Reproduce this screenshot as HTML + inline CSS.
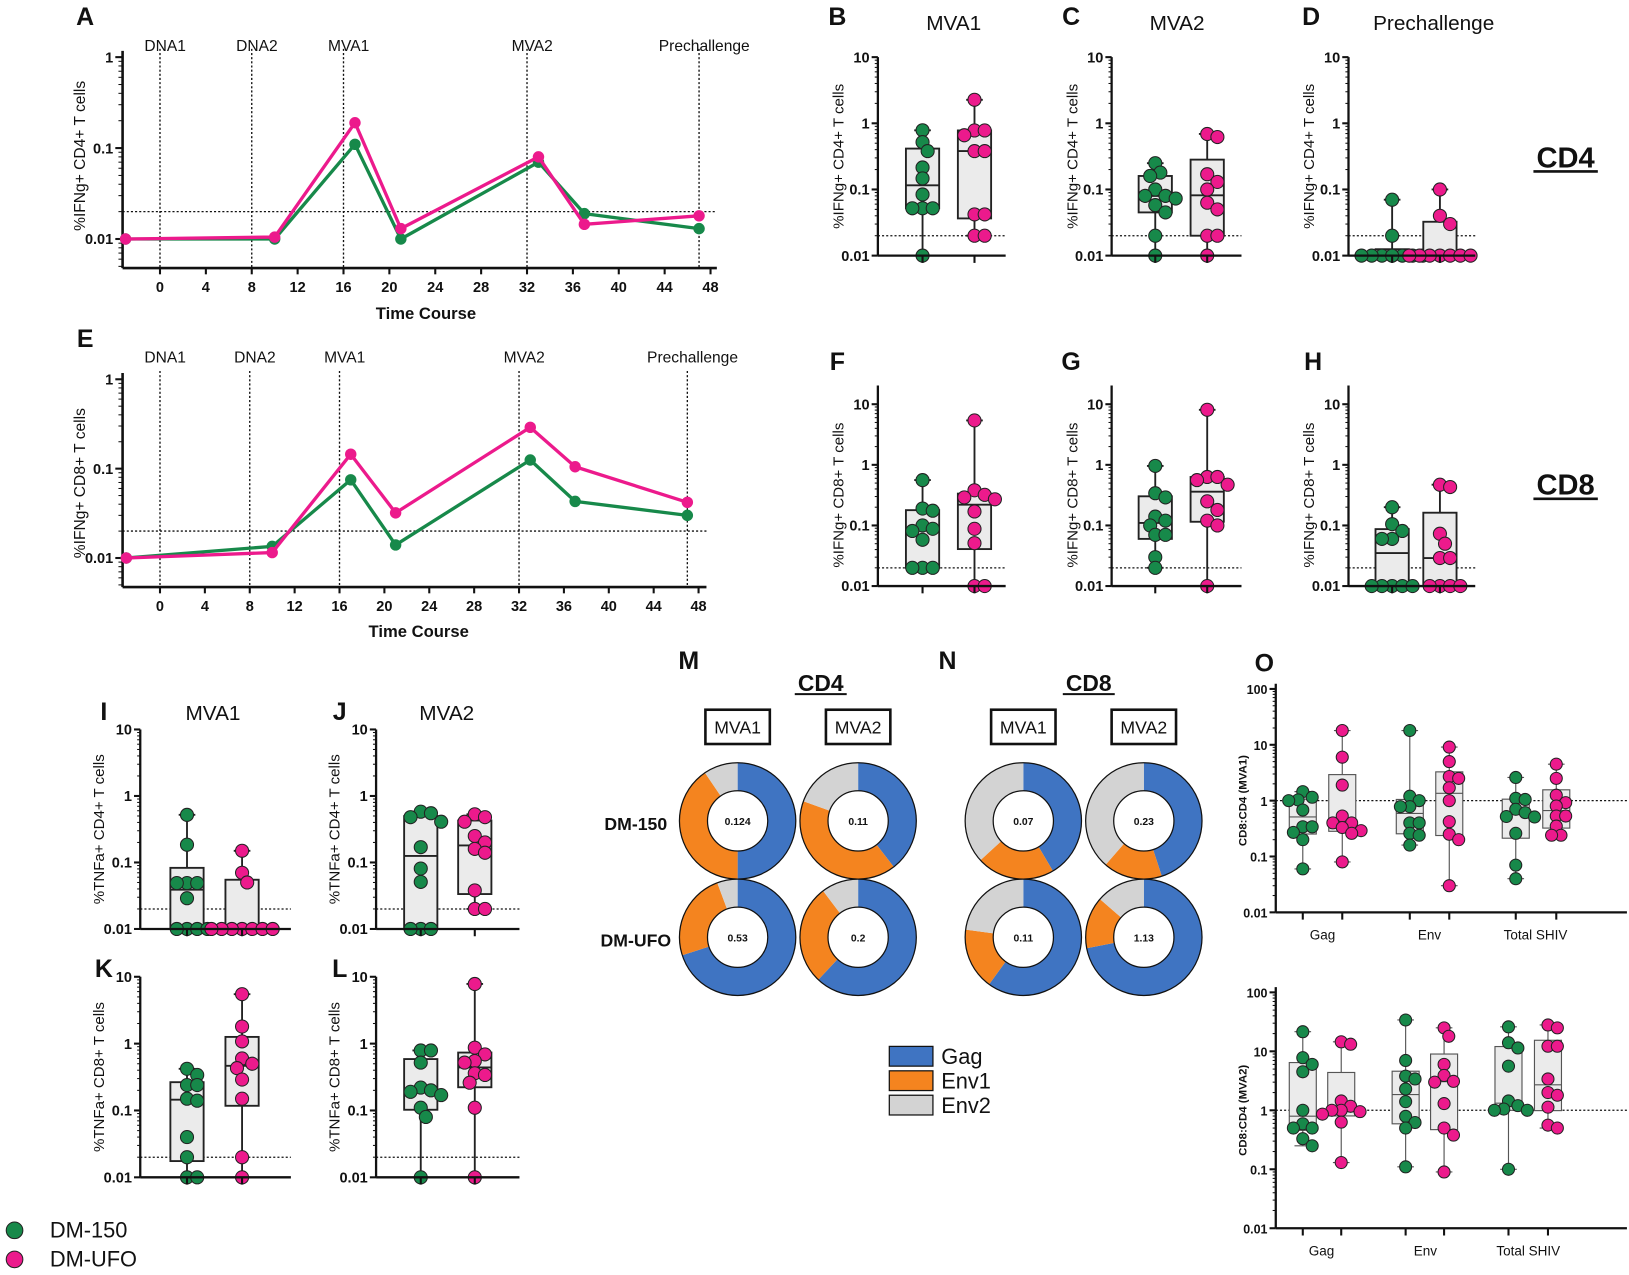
<!DOCTYPE html>
<html><head><meta charset="utf-8"><style>
html,body{margin:0;padding:0;background:#fff}
svg{display:block;font-family:"Liberation Sans",Arial,sans-serif}
</style></head><body>
<svg id="fig" xmlns="http://www.w3.org/2000/svg" width="1629" height="1275" viewBox="0 0 1568 1227" preserveAspectRatio="none"></svg>
<script>
// ---------- DATA ----------
const aTimes=[-3,10,17,21,33,37,47];
const aGreen=[0.01,0.01,0.11,0.01,0.07,0.019,0.013];
const aPink=[0.01,0.0105,0.19,0.013,0.08,0.0145,0.018];
const eTimes=[-3,10,17,21,33,37,47];
const eGreen=[0.01,0.0135,0.075,0.014,0.125,0.043,0.03];
const ePink=[0.01,0.0115,0.145,0.032,0.29,0.105,0.042];
const timeTicks=[0,4,8,12,16,20,24,28,32,36,40,44,48];
const vaccLabels=['DNA1','DNA2','MVA1','MVA2','Prechallenge'];
const vaccTimes=[0,8,16,32,47];
const lineYTicks=[1,0.1,0.01];
const lineYTickLabels=['1','0.1','0.01'];
const boxYTicks=[10,1,0.1,0.01];
const boxYTickLabels=['10','1','0.1','0.01'];
const oYTicks=[100,10,1,0.1,0.01];
const oYTickLabels=['100','10','1','0.1','0.01'];
const oCategories=['Gag','Env','Total SHIV'];

const bGreen=[0.785,0.52,0.38,0.215,0.147,0.084,0.052,0.052,0.052,0.01];
const bPink=[2.27,0.78,0.78,0.66,0.38,0.38,0.042,0.042,0.02,0.02];
const cGreen=[0.25,0.18,0.16,0.1,0.08,0.08,0.073,0.058,0.045,0.02,0.01];
const cPink=[0.69,0.62,0.17,0.13,0.1,0.063,0.05,0.02,0.02,0.01];
const dGreen=[0.07,0.02,0.01,0.01,0.01,0.01,0.01,0.01,0.01,0.01];
const dPink=[0.1,0.04,0.03,0.01,0.01,0.01,0.01,0.01,0.01,0.01];
const fGreen=[0.56,0.19,0.175,0.1,0.088,0.081,0.058,0.02,0.02,0.02];
const fPink=[5.4,0.38,0.32,0.29,0.27,0.17,0.088,0.051,0.01,0.01];
const gGreen=[0.96,0.34,0.29,0.14,0.12,0.1,0.07,0.07,0.03,0.02];
const gPink=[8.1,0.63,0.63,0.56,0.47,0.25,0.18,0.12,0.1,0.01];
const hGreen=[0.2,0.105,0.081,0.06,0.06,0.01,0.01,0.01,0.01,0.01];
const hPink=[0.47,0.43,0.073,0.05,0.029,0.029,0.01,0.01,0.01,0.01];
const iGreen=[0.52,0.185,0.049,0.049,0.049,0.029,0.01,0.01,0.01,0.01];
const iPink=[0.15,0.07,0.05,0.01,0.01,0.01,0.01,0.01,0.01,0.01];
const jGreen=[0.58,0.55,0.48,0.41,0.17,0.081,0.051,0.01,0.01,0.01];
const jPink=[0.53,0.48,0.41,0.25,0.2,0.16,0.14,0.038,0.02,0.02];
const kGreen=[0.42,0.34,0.24,0.24,0.15,0.14,0.04,0.02,0.01,0.01];
const kPink=[5.5,1.8,1.08,0.6,0.5,0.43,0.29,0.15,0.02,0.01];
const lGreen=[0.79,0.79,0.52,0.22,0.2,0.19,0.17,0.11,0.08,0.01];
const lPink=[7.8,0.87,0.69,0.55,0.52,0.36,0.34,0.26,0.11,0.01];

const o1GagGreen=[1.45,1.15,1.03,1.0,0.68,0.34,0.34,0.27,0.2,0.06];
const o1GagPink=[18,6,1.9,0.53,0.4,0.4,0.33,0.29,0.26,0.08];
const o1EnvGreen=[18,1.2,1.0,0.78,0.78,0.4,0.4,0.26,0.24,0.16];
const o1EnvPink=[9.1,5,2.7,2.5,1.7,1.0,0.42,0.25,0.2,0.03];
const o1TotGreen=[2.6,1.1,1.05,0.7,0.61,0.52,0.51,0.26,0.07,0.04];
const o1TotPink=[4.5,2.5,1.25,0.92,0.8,0.53,0.53,0.35,0.24,0.24];
const o2GagGreen=[21.5,7.8,6,4.5,1.0,0.59,0.5,0.5,0.33,0.25];
const o2GagPink=[14.5,13.2,1.44,1.17,1.0,1.0,0.95,0.86,0.63,0.13];
const o2EnvGreen=[34,7,3.8,3.4,2.3,1.4,0.79,0.62,0.5,0.11];
const o2EnvPink=[25,18,6,3.9,3.1,3.0,1.3,0.5,0.38,0.09];
const o2TotGreen=[26,14,11.4,5.6,1.44,1.2,1.05,1.0,1.0,0.1];
const o2TotPink=[28,25,12.2,12.2,3.4,2.0,1.8,1.13,0.56,0.5];

const donutGag=[0.5,0.395,0.415,0.45,0.70,0.62,0.60,0.72];
const donutEnv1=[0.405,0.41,0.217,0.164,0.243,0.277,0.171,0.144];
const donutEnv2=[0.095,0.195,0.368,0.386,0.057,0.103,0.229,0.136];
const donutTotals=['0.124','0.11','0.07','0.23','0.53','0.2','0.11','1.13'];
const donutLegend=['Gag','Env1','Env2'];

// ---------- HELPERS ----------
const NS='http://www.w3.org/2000/svg';
const svg=document.getElementById('fig');
const GREEN='#17894a', PINK='#ec1a8c';
const DCOL=['#3f74c2','#f4841f','#d3d3d3'];
function el(tag,attrs,name,parent){
  const e=document.createElementNS(NS,tag);
  for(const k in attrs) e.setAttribute(k,attrs[k]);
  
  
  (parent||svg).appendChild(e);
  return e;
}
function txt(s,x,y,opt,name,parent){
  const a=Object.assign({x:x,y:y,'font-size':14,'text-anchor':'middle',fill:'#111'},opt||{});
  const t=el('text',a,name,parent); t.textContent=s; return t;
}
function logScale(vTop,vBot,yTop,yBot){
  const lt=Math.log10(vTop), lb=Math.log10(vBot);
  return v=>yTop+(lt-Math.log10(v))/(lt-lb)*(yBot-yTop);
}
function quant(sorted,p){
  const n=sorted.length, pos=p*(n+1);
  if(pos<=1) return sorted[0]; if(pos>=n) return sorted[n-1];
  const i=Math.floor(pos), f=pos-i;
  return sorted[i-1]+f*(sorted[i]-sorted[i-1]);
}
function minorTicks(g,ax,yf,vTop,vBot,len){
  for(let d=Math.floor(Math.log10(vBot));d<Math.log10(vTop);d++){
    for(let m=2;m<=9;m++){const v=m*Math.pow(10,d); if(v>vTop||v<vBot)continue;
      const y=yf(v); el('line',{x1:ax-len,x2:ax,y1:y,y2:y,stroke:'#111','stroke-width':1},'minor-tick',g);}
  }
}

// ---------- LINE CHARTS ----------
function lineChart(id,cfg,times,green,pink){
  const g=el('g',{},id);
  const yf=logScale(1,0.01,cfg.y1,cfg.y001);
  const xf=t=>cfg.x0+t*cfg.xs;
  const ax=118, bottom=cfg.bottom, right=cfg.right;
  vaccTimes.forEach((t,i)=>{
    el('line',{x1:xf(t),x2:xf(t),y1:cfg.y1-8,y2:bottom,stroke:'#111','stroke-width':1.3,'stroke-dasharray':'2,2'},'vaccination-line',g);
    txt(vaccLabels[i],xf(t)+5,cfg.labY,{'font-size':15},'vaccination-label',g);
  });
  el('line',{x1:ax,x2:right,y1:yf(0.02),y2:yf(0.02),stroke:'#111','stroke-width':1.3,'stroke-dasharray':'2,2'},'threshold-line',g);
  el('line',{x1:ax,x2:ax,y1:cfg.y1-6,y2:bottom,stroke:'#111','stroke-width':2.5},'y-axis',g);
  el('line',{x1:ax,x2:right,y1:bottom,y2:bottom,stroke:'#111','stroke-width':2.5},'x-axis',g);
  minorTicks(g,ax,yf,1,0.005,4);
  lineYTicks.forEach((v,i)=>{
    el('line',{x1:ax-7,x2:ax,y1:yf(v),y2:yf(v),stroke:'#111','stroke-width':2},'y-tick',g);
    txt(lineYTickLabels[i],ax-9,yf(v)+5,{'text-anchor':'end','font-weight':'bold','font-size':14},'y-tick-label',g);
  });
  timeTicks.forEach(t=>{
    el('line',{x1:xf(t),x2:xf(t),y1:bottom,y2:bottom+6,stroke:'#111','stroke-width':2},'x-tick',g);
    txt(String(t),xf(t),bottom+23,{'font-weight':'bold','font-size':14},'x-tick-label',g);
  });
  txt('Time Course',cfg.xtX,cfg.xtY,{'font-weight':'bold','font-size':16},'x-axis-title',g);
  txt(cfg.ylabel,0,0,{'font-size':15,transform:`translate(82,${cfg.ylY}) rotate(-90)`},'y-axis-title',g);
  [[green,GREEN,'dm150'],[pink,PINK,'dmufo']].forEach(([vals,c,n])=>{
    const pts=vals.map((v,i)=>xf(times[i])+','+yf(v)).join(' ');
    el('polyline',{points:pts,fill:'none',stroke:c,'stroke-width':3.2,'stroke-linejoin':'round'},'series-line-'+n,g);
    vals.forEach((v,i)=>el('circle',{cx:xf(times[i]),cy:yf(v),r:5.5,fill:c},'series-point-'+n,g));
  });
  txt(cfg.letter,82,cfg.letterY,{'font-weight':'bold','font-size':24},'panel-letter',g);
}
lineChart('panel-a',{y1:55,y001:230,bottom:258,right:690,x0:154,xs:11.04,labY:49,xtX:410,xtY:307,ylabel:'%IFNg+ CD4+ T cells',ylY:150,letter:'A',letterY:24},aTimes,aGreen,aPink);
lineChart('panel-e',{y1:365,y001:537,bottom:565,right:680,x0:154,xs:10.8,labY:349,xtX:403,xtY:613,ylabel:'%IFNg+ CD8+ T cells',ylY:465,letter:'E',letterY:334},eTimes,eGreen,ePink);

// ---------- BOX PANELS ----------
function swarm(vals,cx,yf,r){
  const pts=vals.map(v=>({v:v,y:yf(v)})).sort((a,b)=>a.y-b.y);
  const placed=[];
  const steps=[0,1,-1,2,-2,3,-3,4,-4,5,-5,6,-6];
  const st=0.78*r, minD=1.56*r;
  pts.forEach(p=>{
    for(const k of steps){const x=cx+k*st;
      if(placed.every(q=>Math.hypot(q.x-x,q.y-p.y)>=minD*0.99)){p.x=x;break;}}
    if(p.x===undefined)p.x=cx; placed.push(p);
  });
  return placed;
}
function boxPanel(id,cfg,groups){
  const g=el('g',{},id);
  const yf=logScale(cfg.vTop,cfg.vBot,cfg.yTop,cfg.yBot);
  const ax=cfg.ax, bottom=cfg.yBot;
  el('line',{x1:ax,x2:cfg.right,y1:yf(cfg.ref),y2:yf(cfg.ref),stroke:'#111','stroke-width':1.2,'stroke-dasharray':'2,2'},'threshold-line',g);
  groups.forEach(gr=>{
    const s=gr.vals.slice().sort((a,b)=>a-b);
    const mn=s[0],mx=s[s.length-1],q1=quant(s,0.25),md=quant(s,0.5),q3=quant(s,0.75);
    const bw=cfg.bw, sw=cfg.sw, sc=cfg.sc;
    el('line',{x1:gr.x,x2:gr.x,y1:yf(mx),y2:yf(mn),stroke:sc,'stroke-width':sw},'whisker',g);
    el('line',{x1:gr.x-8,x2:gr.x+8,y1:yf(mx),y2:yf(mx),stroke:sc,'stroke-width':sw},'whisker-cap-max',g);
    el('line',{x1:gr.x-8,x2:gr.x+8,y1:yf(mn),y2:yf(mn),stroke:sc,'stroke-width':sw},'whisker-cap-min',g);
    el('rect',{x:gr.x-bw/2,y:yf(q3),width:bw,height:Math.max(0.5,yf(q1)-yf(q3)),fill:'#ebebeb',stroke:sc,'stroke-width':sw},'box',g);
    el('line',{x1:gr.x-bw/2,x2:gr.x+bw/2,y1:yf(md),y2:yf(md),stroke:sc,'stroke-width':sw},'median-line',g);
    swarm(gr.vals,gr.x,yf,cfg.r).forEach(p=>el('circle',{cx:p.x,cy:p.y,r:cfg.r,fill:gr.color,stroke:'#222','stroke-width':1},'data-point',g));
    el('line',{x1:gr.x,x2:gr.x,y1:bottom,y2:bottom+7,stroke:'#111','stroke-width':2},'x-tick',g);
  });
  el('line',{x1:ax,x2:ax,y1:cfg.axTop,y2:bottom,stroke:'#111','stroke-width':2.2},'y-axis',g);
  el('line',{x1:ax,x2:cfg.right,y1:bottom,y2:bottom,stroke:'#111','stroke-width':2.2},'x-axis',g);
  minorTicks(g,ax,yf,cfg.vTop,cfg.vBot,3);
  cfg.ticks.forEach((v,i)=>{
    el('line',{x1:ax-6,x2:ax,y1:yf(v),y2:yf(v),stroke:'#111','stroke-width':2},'y-tick',g);
    txt(cfg.tickLabels[i],ax-8,yf(v)+5,{'text-anchor':'end','font-weight':'bold','font-size':cfg.tfs||14},'y-tick-label',g);
  });
  txt(cfg.ylabel,0,0,{'font-size':cfg.yfs||14.5,'font-weight':cfg.ybold?'bold':'normal',transform:`translate(${cfg.ylX},${(cfg.yTop+bottom)/2}) rotate(-90)`},'y-axis-title',g);
  if(cfg.title) txt(cfg.title,cfg.titleX,cfg.titleY,{'font-size':20},'panel-title',g);
  if(cfg.letter) txt(cfg.letter,cfg.letterX,cfg.letterY,{'font-weight':'bold','font-size':24},'panel-letter',g);
  if(cfg.cats) cfg.cats.forEach((c,i)=>txt(c,cfg.catX[i],bottom+26,{'font-size':13},'category-label',g));
}
const base={vTop:10,vBot:0.01,ref:0.02,bw:32,sw:1.8,sc:'#222',r:6.3,ticks:boxYTicks,tickLabels:boxYTickLabels};
const row1={yTop:55,yBot:246,axTop:55};
const row2={yTop:389,yBot:564,axTop:371};
boxPanel('panel-b',Object.assign({},base,row1,{ax:845,right:968,ylabel:'%IFNg+ CD4+ T cells',ylX:812,title:'MVA1',titleX:918,titleY:29,letter:'B',letterX:806,letterY:24}),[{vals:bGreen,x:888,color:GREEN},{vals:bPink,x:938,color:PINK}]);
boxPanel('panel-c',Object.assign({},base,row1,{ax:1070,right:1195,ylabel:'%IFNg+ CD4+ T cells',ylX:1037,title:'MVA2',titleX:1133,titleY:29,letter:'C',letterX:1031,letterY:24}),[{vals:cGreen,x:1112,color:GREEN},{vals:cPink,x:1162,color:PINK}]);
boxPanel('panel-d',Object.assign({},base,row1,{ax:1298,right:1420,ylabel:'%IFNg+ CD4+ T cells',ylX:1265,title:'Prechallenge',titleX:1380,titleY:29,letter:'D',letterX:1262,letterY:24}),[{vals:dGreen,x:1340,color:GREEN},{vals:dPink,x:1386,color:PINK}]);
boxPanel('panel-f',Object.assign({},base,row2,{ax:845,right:968,ylabel:'%IFNg+ CD8+ T cells',ylX:812,letter:'F',letterX:806,letterY:356}),[{vals:fGreen,x:888,color:GREEN},{vals:fPink,x:938,color:PINK}]);
boxPanel('panel-g',Object.assign({},base,row2,{ax:1070,right:1195,ylabel:'%IFNg+ CD8+ T cells',ylX:1037,letter:'G',letterX:1031,letterY:356}),[{vals:gGreen,x:1112,color:GREEN},{vals:gPink,x:1162,color:PINK}]);
boxPanel('panel-h',Object.assign({},base,row2,{ax:1298,right:1420,ylabel:'%IFNg+ CD8+ T cells',ylX:1265,letter:'H',letterX:1264,letterY:356}),[{vals:hGreen,x:1340,color:GREEN},{vals:hPink,x:1386,color:PINK}]);
const row3={yTop:702,yBot:894,axTop:702};
const row4={yTop:940,yBot:1133,axTop:940};
boxPanel('panel-i',Object.assign({},base,row3,{ax:135,right:280,ylabel:'%TNFa+ CD4+ T cells',ylX:100,title:'MVA1',titleX:205,titleY:693,letter:'I',letterX:100,letterY:693}),[{vals:iGreen,x:180,color:GREEN},{vals:iPink,x:233,color:PINK}]);
boxPanel('panel-j',Object.assign({},base,row3,{ax:362,right:500,ylabel:'%TNFa+ CD4+ T cells',ylX:327,title:'MVA2',titleX:430,titleY:693,letter:'J',letterX:327,letterY:693}),[{vals:jGreen,x:405,color:GREEN},{vals:jPink,x:457,color:PINK}]);
boxPanel('panel-k',Object.assign({},base,row4,{ax:135,right:280,ylabel:'%TNFa+ CD8+ T cells',ylX:100,letter:'K',letterX:100,letterY:940}),[{vals:kGreen,x:180,color:GREEN},{vals:kPink,x:233,color:PINK}]);
boxPanel('panel-l',Object.assign({},base,row4,{ax:362,right:500,ylabel:'%TNFa+ CD8+ T cells',ylX:327,letter:'L',letterX:327,letterY:940}),[{vals:lGreen,x:405,color:GREEN},{vals:lPink,x:457,color:PINK}]);
const obase={vTop:100,vBot:0.01,ref:1,bw:26,sw:1.1,sc:'#555',r:5.8,ticks:oYTicks,tickLabels:oYTickLabels,tfs:12,yfs:11,ybold:true,cats:oCategories};
boxPanel('panel-o-mva1',Object.assign({},obase,{yTop:663,yBot:878,axTop:658,ax:1228,right:1566,ylabel:'CD8:CD4 (MVA1)',ylX:1200,letter:'O',letterX:1217,letterY:646,catX:[1273,1376,1478]}),
 [{vals:o1GagGreen,x:1254,color:GREEN},{vals:o1GagPink,x:1292,color:PINK},{vals:o1EnvGreen,x:1357,color:GREEN},{vals:o1EnvPink,x:1395,color:PINK},{vals:o1TotGreen,x:1459,color:GREEN},{vals:o1TotPink,x:1498,color:PINK}]);
boxPanel('panel-o-mva2',Object.assign({},obase,{yTop:955,yBot:1182,axTop:950,ax:1228,right:1566,ylabel:'CD8:CD4 (MVA2)',ylX:1200,catX:[1272,1372,1471]}),
 [{vals:o2GagGreen,x:1254,color:GREEN},{vals:o2GagPink,x:1291,color:PINK},{vals:o2EnvGreen,x:1353,color:GREEN},{vals:o2EnvPink,x:1390,color:PINK},{vals:o2TotGreen,x:1452,color:GREEN},{vals:o2TotPink,x:1490,color:PINK}]);

// ---------- DONUTS ----------
(function(){
  const g=el('g',{},'panel-m-n');
  const cx=[710,826,985,1101], cy=[790,902], R=56, r=29;
  txt('M',663,644,{'font-weight':'bold','font-size':24},'panel-letter',g);
  txt('N',912,644,{'font-weight':'bold','font-size':24},'panel-letter',g);
  [['CD4',790],['CD8',1048]].forEach(([s,x])=>{
    txt(s,x,665,{'font-weight':'bold','font-size':22},'group-title',g);
    el('line',{x1:x-25,x2:x+25,y1:668,y2:668,stroke:'#111','stroke-width':2},'title-underline',g);
  });
  cx.forEach((x,i)=>{
    el('rect',{x:x-31,y:683,width:62,height:33,fill:'#fff',stroke:'#111','stroke-width':2.5},'timepoint-box',g);
    txt(i%2?'MVA2':'MVA1',x,706,{'font-size':17},'timepoint-label',g);
  });
  txt('DM-150',612,799,{'font-weight':'bold','font-size':17},'row-label',g);
  txt('DM-UFO',612,911,{'font-weight':'bold','font-size':17},'row-label',g);
  for(let k=0;k<8;k++){
    const x=cx[k%4], y=cy[Math.floor(k/4)];
    const fr=[donutGag[k],donutEnv1[k],donutEnv2[k]];
    const tot=fr[0]+fr[1]+fr[2]; let a0=0;
    fr.forEach((f,j)=>{
      const a1=a0+f/tot*2*Math.PI;
      const p=(a,rad)=>[x+rad*Math.sin(a),y-rad*Math.cos(a)];
      const [x0,y0]=p(a0,R),[x1,y1]=p(a1,R),[x2,y2]=p(a1,r),[x3,y3]=p(a0,r);
      const lg=(a1-a0)>Math.PI?1:0;
      el('path',{d:`M${x0},${y0}A${R},${R} 0 ${lg} 1 ${x1},${y1}L${x2},${y2}A${r},${r} 0 ${lg} 0 ${x3},${y3}Z`,fill:DCOL[j],stroke:'none'},'donut-slice-'+donutLegend[j].toLowerCase(),g);
      a0=a1;
    });
    el('circle',{cx:x,cy:y,r:R,fill:'none',stroke:'#111','stroke-width':1.2},'donut-outline',g);
    el('circle',{cx:x,cy:y,r:r,fill:'#fff',stroke:'#111','stroke-width':1.2},'donut-hole',g);
    txt(donutTotals[k],x,y+4,{'font-weight':'bold','font-size':10},'donut-total',g);
  }
  donutLegend.forEach((s,j)=>{
    el('rect',{x:856,y:1007+j*23.5,width:42,height:19,fill:DCOL[j],stroke:'#111','stroke-width':1.2},'legend-swatch',g);
    txt(s,906,1024+j*23.5,{'text-anchor':'start','font-size':21},'legend-label',g);
  });
})();

// ---------- CD4/CD8 tags & group legend ----------
txt('CD4',1507,161,{'font-weight':'bold','font-size':28},'cd4-row-label');
el('line',{x1:1476,x2:1538,y1:165,y2:165,stroke:'#111','stroke-width':2.5},'cd4-underline');
txt('CD8',1507,476,{'font-weight':'bold','font-size':28},'cd8-row-label');
el('line',{x1:1476,x2:1538,y1:480,y2:480,stroke:'#111','stroke-width':2.5},'cd8-underline');
el('circle',{cx:14,cy:1184,r:8,fill:GREEN,stroke:'#222','stroke-width':1},'legend-marker-dm150');
txt('DM-150',48,1191,{'text-anchor':'start','font-size':21},'legend-label-dm150');
el('circle',{cx:14,cy:1212,r:8,fill:PINK,stroke:'#222','stroke-width':1},'legend-marker-dmufo');
txt('DM-UFO',48,1219,{'text-anchor':'start','font-size':21},'legend-label-dmufo');
</script>
</body></html>
